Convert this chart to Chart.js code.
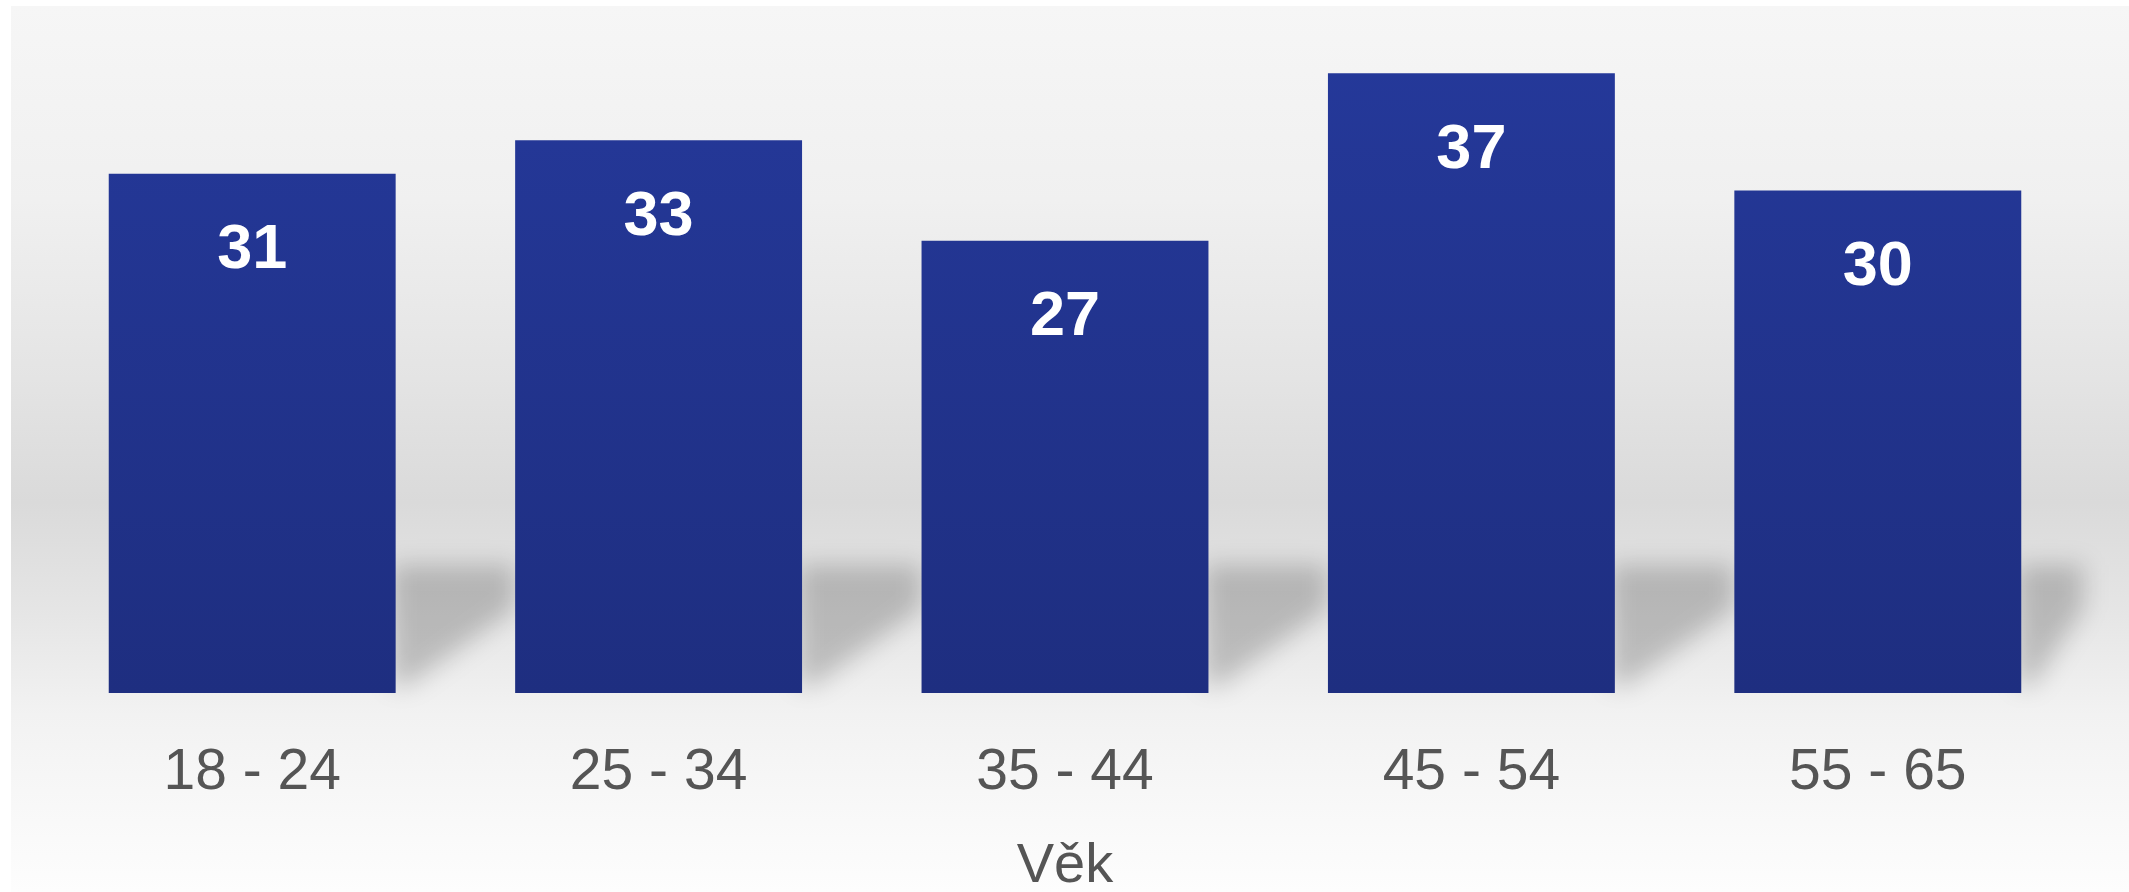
<!DOCTYPE html>
<html lang="cs">
<head>
<meta charset="utf-8">
<title>Věk</title>
<script src="https://cdn.jsdelivr.net/npm/chart.js@4.4.1/dist/chart.umd.min.js"></script>
<style>
  html, body { margin: 0; padding: 0; background: #ffffff; overflow: hidden; }
  #wrap { width: 2129px; height: 892px; position: relative; }
</style>
</head>
<body>
<div id="wrap"><canvas id="chart"></canvas></div>
<script>
const categories = ["18 - 24", "25 - 34", "35 - 44", "45 - 54", "55 - 65"];
const values = [31, 33, 27, 37, 30];
const axisTitle = "Věk";
const yMax = 40;

// grey backdrop with the darker band behind the lower half of the bars
const backdrop = {
  id: "backdrop",
  beforeDraw(chart) {
    const ctx = chart.ctx;
    const w = chart.width;
    const h = chart.height;
    const g = ctx.createLinearGradient(0, 6, 0, h);
    g.addColorStop(0, "#f6f6f6");
    g.addColorStop(0.22, "#f0f0f0");
    g.addColorStop(0.42, "#e4e4e4");
    g.addColorStop(0.56, "#dadada");
    g.addColorStop(0.68, "#e5e5e5");
    g.addColorStop(0.8, "#f2f2f2");
    g.addColorStop(0.92, "#f9f9f9");
    g.addColorStop(1, "#fdfdfd");
    ctx.save();
    ctx.fillStyle = "#ffffff";
    ctx.fillRect(0, 0, w, h);
    ctx.fillStyle = g;
    ctx.fillRect(11, 6, w - 11, h - 6);
    ctx.restore();
  },
  beforeDatasetsDraw(chart) {
    // soft shadow in the gap right of every bar, near the floor
    const ctx = chart.ctx;
    const bars = chart.getDatasetMeta(0).data;
    ctx.save();
    ctx.filter = "blur(12px)";
    ctx.fillStyle = "rgba(0,0,0,0.2)";
    bars.forEach((bar, i) => {
      const right = bar.x + bar.width / 2;
      const next = bars[i + 1];
      const end = next ? next.x - next.width / 2 : right + 62;
      const base = bar.base;
      ctx.beginPath();
      ctx.moveTo(right - 4, base - 128);
      ctx.lineTo(end, base - 128);
      ctx.lineTo(end, base - 85);
      ctx.lineTo(right + 12, base - 8);
      ctx.lineTo(right - 4, base - 8);
      ctx.closePath();
      ctx.fill();
    });
    ctx.restore();
  }
};

// white numbers inside the bars
const barValues = {
  id: "barValues",
  afterDatasetsDraw(chart) {
    const ctx = chart.ctx;
    const meta = chart.getDatasetMeta(0);
    ctx.save();
    ctx.fillStyle = "#ffffff";
    ctx.font = "bold 63px 'Liberation Sans', Arial, sans-serif";
    ctx.textAlign = "center";
    ctx.textBaseline = "middle";
    meta.data.forEach((bar, i) => {
      ctx.fillText(String(values[i]), bar.x, bar.y + 77);
    });
    ctx.restore();
  }
};

function barFill(context) {
  const area = context.chart.chartArea;
  if (!area) return "#22358f";
  const g = context.chart.ctx.createLinearGradient(0, area.top, 0, area.bottom);
  g.addColorStop(0, "#25399b");
  g.addColorStop(1, "#1e2e80");
  return g;
}

new Chart(document.getElementById("chart"), {
  type: "bar",
  data: {
    labels: categories,
    datasets: [
      {
        data: values,
        backgroundColor: barFill,
        borderWidth: 0,
        barPercentage: 1,
        categoryPercentage: 0.706
      }
    ]
  },
  options: {
    responsive: true,
    maintainAspectRatio: false,
    animation: false,
    layout: { padding: { left: 49, right: 48, top: 23, bottom: 0 } },
    plugins: {
      legend: { display: false },
      tooltip: { enabled: false }
    },
    scales: {
      y: {
        display: false,
        min: 0,
        max: yMax
      },
      x: {
        grid: { display: false },
        border: { display: false },
        ticks: {
          color: "#555555",
          padding: 38,
          font: { family: "'Liberation Sans', Arial, sans-serif", size: 57 }
        },
        title: {
          display: true,
          text: axisTitle,
          color: "#555555",
          padding: { top: 0, bottom: 0 },
          font: { family: "'Liberation Sans', Arial, sans-serif", size: 56, lineHeight: 0.9 }
        },
        afterFit(scale) {
          scale.height = 199;
        }
      }
    }
  },
  plugins: [backdrop, barValues]
});
</script>
</body>
</html>
